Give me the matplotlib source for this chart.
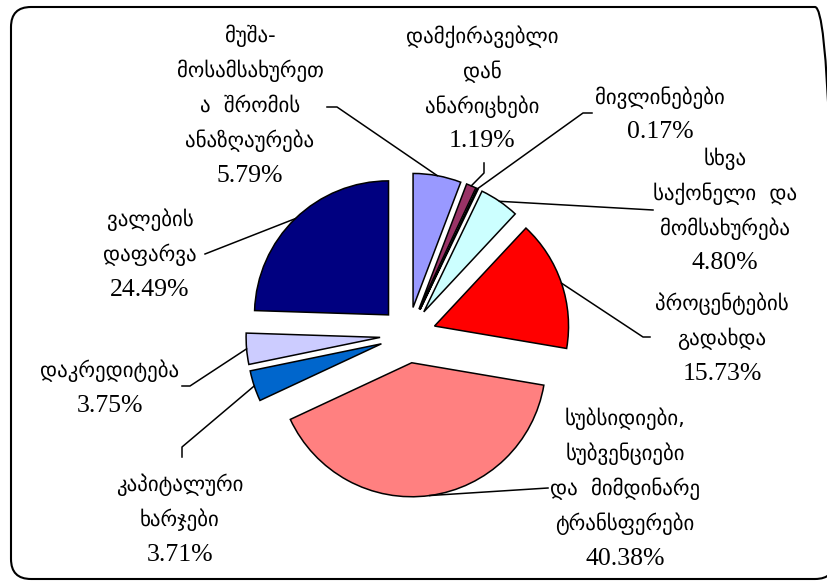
import matplotlib
matplotlib.use("Agg")
import matplotlib.pyplot as plt
import numpy as np
from matplotlib.patches import FancyBboxPatch

# donnees du graphique
categories = ["მუშა-\nმოსამსახურეთ\nა  შრომის\nანაზღაურება",
              "დამქირავებლი\nდან\nანარიცხები",
              "მივლინებები",
              "სხვა\nსაქონელი  და\nმომსახურება",
              "პროცენტების\nგადახდა",
              "სუბსიდიები,\nსუბვენციები\nდა  მიმდინარე\nტრანსფერები",
              "კაპიტალური\nხარჯები",
              "დაკრედიტება",
              "ვალების\nდაფარვა"]
valeurs = [5.79, 1.19, 0.17, 4.80, 15.73, 40.38, 3.71, 3.75, 24.49]
couleurs = ["#9999FF", "#993366", "#FFFFCC", "#CCFFFF", "#FF0000",
            "#FF8080", "#0066CC", "#CCCCFF", "#000080"]

W, H = 828, 583
# position des etiquettes (pixels, origine en haut a gauche)
posLabels = [(250, 106), (482, 89), (660, 115), (725, 211), (722, 339),
             (625, 489), (180, 520), (110, 388), (150, 255)]
interligne = 35
# lignes de rappel : points cote etiquette
lignes = [[(337, 107), (327, 107)],
          [(484, 173), (484, 163)],
          [(583, 113), (592, 113)],
          [(653, 210)],
          [(643, 337), (650, 337)],
          [(548, 488)],
          [(182, 447), (182, 457)],
          [(190, 386), (182, 386)],
          [(205, 254)]]

R = 134
centre = (408, H - 335)

fig = plt.figure(figsize=(W / 100, H / 100), dpi=100)
ax = fig.add_axes([0, 0, 1, 1])

wedges, _ = ax.pie(valeurs, colors=couleurs, startangle=90, counterclock=False,
                   explode=[28] * len(valeurs), radius=R, center=centre, frame=True,
                   wedgeprops=dict(edgecolor="black", linewidth=1.1))
ax.set_xlim(0, W)
ax.set_ylim(0, H)
ax.set_aspect("equal")
ax.axis("off")

# cadre arrondi
cadre = FancyBboxPatch((11, H - 579), 824, 572, boxstyle="round,pad=0,rounding_size=20",
                       fill=False, edgecolor="black", linewidth=1.5, clip_on=False)
ax.add_patch(cadre)

for i, w in enumerate(wedges):
    tm = np.deg2rad((w.theta1 + w.theta2) / 2)
    x0 = w.center[0] + w.r * np.cos(tm)
    y0 = w.center[1] + w.r * np.sin(tm)
    xs = [x0] + [p[0] for p in lignes[i]]
    ys = [y0] + [H - p[1] for p in lignes[i]]
    ax.plot(xs, ys, color="black", linewidth=1.1)

    # une ligne de texte a la fois
    lignesTexte = categories[i].split("\n") + ["%.2f%%" % valeurs[i]]
    n = len(lignesTexte)
    for k, t in enumerate(lignesTexte):
        yk = posLabels[i][1] + (k - (n - 1) / 2.0) * interligne
        if k == n - 1:
            ax.text(posLabels[i][0], H - yk, t, ha="center", va="center",
                    fontsize=18.5, family="Liberation Serif")
        else:
            ax.text(posLabels[i][0], H - yk, t, ha="center", va="center",
                    fontsize=15, family="DejaVu Sans")

fig.savefig("out.png", dpi=100)
